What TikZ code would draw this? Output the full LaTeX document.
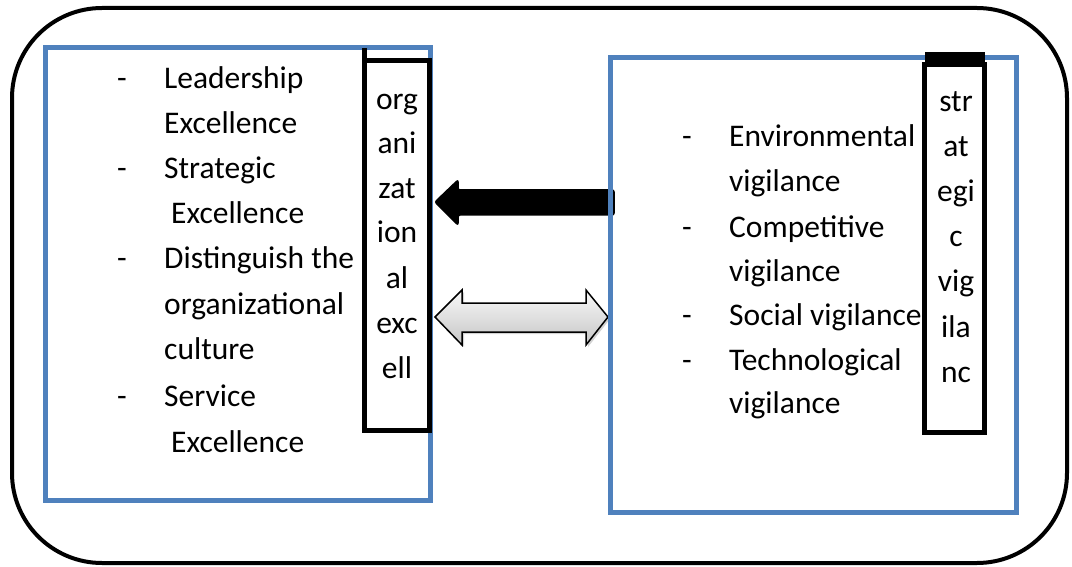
\documentclass[tikz,border=0pt]{standalone}
\usepackage{fontspec}
\setmainfont{Carlito}
\usetikzlibrary{shadows}
\definecolor{boxblue}{HTML}{4F81BD}
\tikzset{
  bluebox/.style={draw=boxblue, line width=5pt, inner sep=0pt, fill=white},
  colbox/.style={draw=black, line width=5pt, inner sep=0pt, fill=white},
  txt/.style={anchor=base west, inner sep=0pt, font=\fontsize{31.5}{37}\selectfont},
  coltxt/.style={anchor=base, inner sep=0pt, font=\fontsize{31.5}{37}\selectfont},
  bigarrow/.style={fill=black, draw=black, line width=1.5pt, rounded corners=2pt},
  dblarrow/.style={draw=black, line width=1.5pt, top color=gray!5, bottom color=gray!45,
     drop shadow={shadow xshift=2pt, shadow yshift=-2pt, opacity=0.35}}
}
\begin{document}
\begin{tikzpicture}[x=1pt, y=-1pt]
\useasboundingbox (0,0) rectangle (1072,567);
% outer frame
\draw[line width=4pt, rounded corners=90pt] (12,8) rectangle (1067,563);
% left blue box and column
\node[bluebox, minimum width=385pt, minimum height=453pt] (LB) at (238,274) {};
\node[colbox, minimum width=65pt, minimum height=370pt] (LC) at (397,245.5) {};
\draw[line width=5pt] (364.5,48) coordinate (LT1) -- (364.5,60) coordinate (LT2);
% arrows
\draw[bigarrow] (614,190) -- (458,190) -- (458,180) -- (435,202) -- (458,225) -- (458,215) -- (614,215) -- cycle;
\draw[dblarrow] (435,317) -- (462,290) -- (462,303) -- (586,303) -- (586,290) -- (608,317)
   -- (586,345) -- (586,332) -- (462,332) -- (462,345) -- cycle;
% right blue box and column
\node[bluebox, fill=none, minimum width=406pt, minimum height=455pt] (RB) at (813.5,285) {};
\node[colbox, minimum width=60pt, minimum height=368pt] (RC) at (954.5,248.5) {};
\fill[black] (925,52) rectangle (985,63);
% left text
\node[txt] (ld1) at (117,89) {-};
\node[txt] (lt1) at (164,89) {Leadership};
\node[txt] (lt2) at (164,134) {Excellence};
\node[txt] (ld2) at (117,179) {-};
\node[txt] (lt3) at (164,179) {Strategic};
\node[txt] (lt4) at (171,224) {Excellence};
\node[txt] (ld3) at (117,269) {-};
\node[txt] (lt5) at (164,269) {Distinguish the};
\node[txt] (lt6) at (164,314) {organizational};
\node[txt] (lt7) at (164,359) {culture};
\node[txt] (ld4) at (117,406) {-};
\node[txt] (lt8) at (164,406) {Service};
\node[txt] (lt9) at (171,452) {Excellence};
% left column text
\node[coltxt] (lc1) at (397,110) {org};
\node[coltxt] (lc2) at (397,154) {ani};
\node[coltxt] (lc3) at (397,199) {zat};
\node[coltxt] (lc4) at (397,243) {ion};
\node[coltxt] (lc5) at (397,288) {al};
\node[coltxt] (lc6) at (397,333) {exc};
\node[coltxt] (lc7) at (397,378) {ell};
% right text
\node[txt] (rd1) at (682,147) {-};
\node[txt] (rt1) at (729,147) {Environmental};
\node[txt] (rt2) at (729,192) {vigilance};
\node[txt] (rd2) at (682,237) {-};
\node[txt] (rt3) at (729,237) {Competitive};
\node[txt] (rt4) at (729,281) {vigilance};
\node[txt] (rd3) at (682,325) {-};
\node[txt] (rt5) at (729,325) {Social vigilance};
\node[txt] (rd4) at (682,370) {-};
\node[txt] (rt6) at (729,370) {Technological};
\node[txt] (rt7) at (729,413) {vigilance};
% right column text
\node[coltxt] (rc1) at (956,112) {str};
\node[coltxt] (rc2) at (956,157) {at};
\node[coltxt] (rc3) at (956,202) {egi};
\node[coltxt] (rc4) at (956,247) {c};
\node[coltxt] (rc5) at (956,291) {vig};
\node[coltxt] (rc6) at (956,337) {ila};
\node[coltxt] (rc7) at (956,382) {nc};
\end{tikzpicture}
\end{document}
